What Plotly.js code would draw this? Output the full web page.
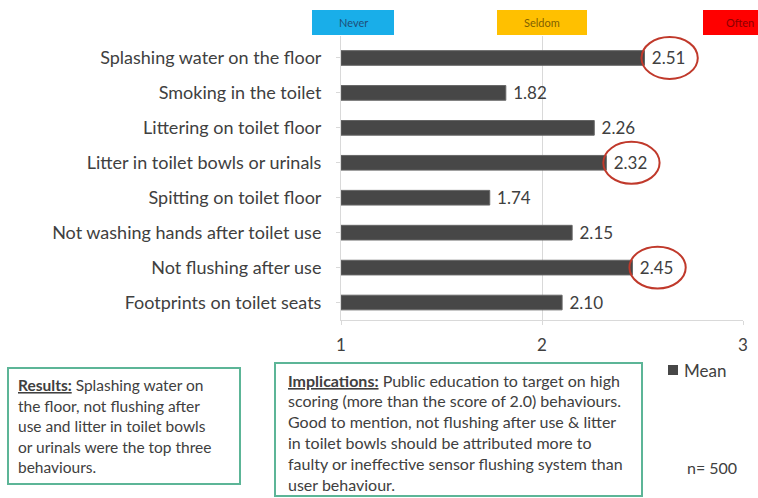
<!DOCTYPE html>
<html>
<head>
<meta charset="utf-8">
<script src="https://cdn.plot.ly/plotly-3.0.1.min.js"></script>
<style>html,body{margin:0;padding:0;background:#fff;}#chart{width:758px;height:498px;}</style>
</head>
<body>
<div id="chart"></div>
<script>
// ---- data ----
const categories = [
  "Splashing water on the floor",
  "Smoking in the toilet",
  "Littering on toilet floor",
  "Litter in toilet bowls or urinals",
  "Spitting on toilet floor",
  "Not washing hands after toilet use",
  "Not flushing after use",
  "Footprints on toilet seats"
];
const meanValues = [2.51, 1.82, 2.26, 2.32, 1.74, 2.15, 2.45, 2.10];
const circled = [true, false, false, true, false, false, true, false];
const seriesName = "Mean";
const xTickValues = [1, 2, 3];
const xTickLabels = ["1", "2", "3"];
const scaleLabels = ["Never", "Seldom", "Often"];
const resultsLines = [
  "<b><span style=\"text-decoration:underline\">Results:</span></b> Splashing water on",
  "the floor, not flushing after",
  "use and litter in toilet bowls",
  "or urinals were the top three",
  "behaviours."
];
const implicationsLines = [
  "<b><span style=\"text-decoration:underline\">Implications:</span></b> Public education to target on high",
  "scoring (more than the score of 2.0) behaviours.",
  "Good to mention, not flushing after use &amp; litter",
  "in toilet bowls should be attributed more to",
  "faulty or ineffective sensor flushing system than",
  "user behaviour."
];
const sampleNote = "n= 500";

// ---- layout helpers ----
const W = 758, H = 498;
const L = 341, R = 743, T = 36, B = 320;
const fx = px => (px - L) / (R - L);
const fy = py => (B - py) / (B - T);
const FONT = "Lato, 'Open Sans', sans-serif";
const TXT = "#404040";
const BAR = "#474747";

const shapes = [];
const annotations = [];

// header scale boxes
const hdr = [
  {x0: 312, x1: 394, fill: "#19aee9", tc: "#1f4e79", cx: 353},
  {x0: 497, x1: 587, fill: "#ffc000", tc: "#7f6000", cx: 542},
  {x0: 703, x1: 790, fill: "#ff0000", tc: "#8b0000", cx: 740}
];
hdr.forEach((h, i) => {
  shapes.push({type: "rect", xref: "paper", yref: "paper",
    x0: fx(h.x0), x1: fx(h.x1), y0: fy(35), y1: fy(10),
    fillcolor: h.fill, line: {width: 0}, layer: "above"});
  annotations.push({xref: "paper", yref: "paper", x: fx(h.cx), y: fy(22),
    text: scaleLabels[i], showarrow: false, xanchor: "center", yanchor: "middle",
    font: {family: FONT, size: 11, color: h.tc}});
});

// red ellipses around highlighted values
meanValues.forEach((v, i) => {
  if (circled[i]) {
    shapes.push({type: "circle", xref: "x", yref: "y",
      x0: v - 0.015, x1: v + 0.265, y0: i - 0.6, y1: i + 0.6,
      line: {color: "#c0392b", width: 2}, layer: "above"});
  }
});

// text boxes
const boxColor = "#5cb597";
shapes.push({type: "rect", xref: "paper", yref: "paper",
  x0: fx(8), x1: fx(240), y0: fy(484), y1: fy(368),
  line: {color: boxColor, width: 2}, fillcolor: "rgba(0,0,0,0)"});
shapes.push({type: "rect", xref: "paper", yref: "paper",
  x0: fx(275), x1: fx(642), y0: fy(496), y1: fy(363),
  line: {color: boxColor, width: 2}, fillcolor: "rgba(0,0,0,0)"});

resultsLines.forEach((t, i) => {
  annotations.push({xref: "paper", yref: "paper", x: fx(16), y: fy(385 + i * 20.5),
    text: t, showarrow: false, xanchor: "left", yanchor: "middle",
    font: {family: FONT, size: 15.5, color: TXT}});
});
implicationsLines.forEach((t, i) => {
  annotations.push({xref: "paper", yref: "paper", x: fx(286), y: fy(380 + i * 20.8),
    text: t, showarrow: false, xanchor: "left", yanchor: "middle",
    font: {family: FONT, size: 16, color: TXT}});
});
annotations.push({xref: "paper", yref: "paper", x: fx(712), y: fy(467),
  text: sampleNote, showarrow: false, xanchor: "center", yanchor: "middle",
  font: {family: FONT, size: 16, color: TXT}});

// manual legend
shapes.push({type: "rect", xref: "paper", yref: "paper",
  x0: fx(668), x1: fx(678), y0: fy(375), y1: fy(365),
  fillcolor: BAR, line: {width: 0}});
annotations.push({xref: "paper", yref: "paper", x: fx(682), y: fy(370),
  text: seriesName, showarrow: false, xanchor: "left", yanchor: "middle",
  font: {family: FONT, size: 17, color: TXT}});

const trace = {
  type: "bar", orientation: "h",
  y: categories, x: meanValues.map(v => v - 1), base: 1,
  name: seriesName,
  marker: {color: BAR, line: {color: "#666666", width: 1}},
  width: 0.42,
  text: meanValues.map(v => "\u00a0" + v.toFixed(2)),
  textposition: "outside",
  constraintext: "none",
  textfont: {family: FONT, size: 17, color: TXT},
  cliponaxis: false,
  showlegend: false,
  hoverinfo: "skip"
};

const layout = {
  width: W, height: H,
  margin: {l: L, r: W - R, t: T, b: H - B, pad: 0},
  paper_bgcolor: "#fff", plot_bgcolor: "#fff",
  font: {family: FONT, color: TXT},
  showlegend: false,
  xaxis: {range: [1, 3], tickvals: xTickValues, ticktext: xTickLabels,
    showgrid: true, gridcolor: "#d9d9d9", gridwidth: 1,
    zeroline: false, showline: true, linecolor: "#d9d9d9",
    ticks: "outside", ticklen: 4, tickcolor: "#d9d9d9", ticklabelstandoff: 6,
    tickfont: {family: FONT, size: 17, color: TXT}, fixedrange: true},
  yaxis: {type: "category", autorange: "reversed",
    showline: true, linecolor: "#d9d9d9", ticks: "outside", ticklen: 4, tickcolor: "#d9d9d9",
    showgrid: false, ticklabelstandoff: 11,
    tickfont: {family: FONT, size: 18, color: TXT}},
  shapes: shapes,
  annotations: annotations
};

Plotly.newPlot("chart", [trace], layout, {displayModeBar: false, staticPlot: true});
</script>
</body>
</html>
